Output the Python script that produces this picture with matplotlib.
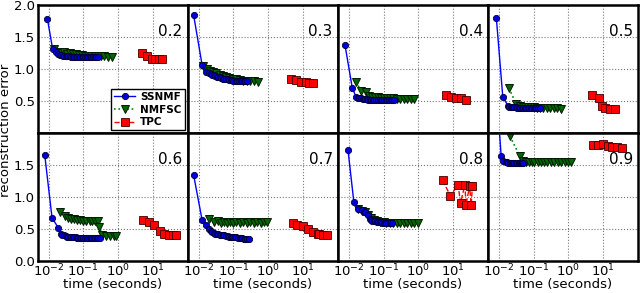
import matplotlib
matplotlib.use("Agg")
import matplotlib.pyplot as plt
from matplotlib.ticker import NullLocator

# sparsity level of each panel
sparsity = ["0.2", "0.3", "0.4", "0.5", "0.6", "0.7", "0.8", "0.9"]

# SSNMF: time (s) and reconstruction error, one list per panel
ssnmf_time = [
    [0.0093, 0.013, 0.016, 0.019, 0.021, 0.023, 0.026, 0.028, 0.031, 0.034, 0.037, 0.041, 0.045, 0.05, 0.055, 0.06, 0.067, 0.075, 0.082, 0.09, 0.1, 0.11, 0.125, 0.14, 0.155, 0.17, 0.19, 0.21, 0.23, 0.26],
    [0.0072, 0.0126, 0.016, 0.02, 0.022, 0.025, 0.027, 0.03, 0.033, 0.037, 0.041, 0.045, 0.05, 0.055, 0.061, 0.068, 0.076, 0.085, 0.093, 0.1, 0.115, 0.13, 0.145, 0.16, 0.18, 0.2, 0.22, 0.25],
    [0.0078, 0.0126, 0.016, 0.018, 0.02, 0.022, 0.025, 0.027, 0.03, 0.033, 0.037, 0.041, 0.045, 0.05, 0.055, 0.062, 0.07, 0.077, 0.085, 0.093, 0.1, 0.115, 0.13, 0.145, 0.16, 0.18, 0.2],
    [0.0085, 0.013, 0.0185, 0.02, 0.022, 0.024, 0.026, 0.028, 0.031, 0.034, 0.037, 0.041, 0.045, 0.05, 0.055, 0.061, 0.067, 0.074, 0.082, 0.09, 0.1, 0.11, 0.12, 0.135, 0.15],
    [0.0078, 0.0126, 0.019, 0.023, 0.025, 0.028, 0.031, 0.034, 0.037, 0.041, 0.045, 0.05, 0.055, 0.06, 0.066, 0.072, 0.08, 0.087, 0.095, 0.1, 0.11, 0.125, 0.14, 0.15, 0.165, 0.18, 0.2, 0.22, 0.245, 0.27, 0.3],
    [0.0072, 0.0126, 0.016, 0.02, 0.022, 0.025, 0.027, 0.03, 0.033, 0.037, 0.041, 0.045, 0.05, 0.055, 0.061, 0.068, 0.075, 0.083, 0.091, 0.1, 0.11, 0.12, 0.135, 0.15, 0.165, 0.18, 0.2, 0.22, 0.25, 0.28],
    [0.0095, 0.014, 0.019, 0.024, 0.027, 0.03, 0.035, 0.04, 0.044, 0.048, 0.053, 0.058, 0.064, 0.07, 0.077, 0.085, 0.093, 0.1, 0.11, 0.12, 0.135, 0.15, 0.165, 0.18],
    [0.0088, 0.0117, 0.0135, 0.016, 0.0175, 0.019, 0.0205, 0.022, 0.024, 0.026, 0.028, 0.031, 0.034, 0.037, 0.04, 0.044, 0.047, 0.05],
]
ssnmf_err = [
    [1.78, 1.32, 1.26, 1.23, 1.22, 1.22, 1.21, 1.21, 1.20, 1.20, 1.20, 1.20, 1.19, 1.19, 1.19, 1.19, 1.18, 1.18, 1.18, 1.18, 1.18, 1.18, 1.18, 1.18, 1.18, 1.18, 1.18, 1.18, 1.18, 1.18],
    [1.84, 1.06, 0.96, 0.93, 0.92, 0.91, 0.90, 0.89, 0.88, 0.87, 0.87, 0.86, 0.85, 0.85, 0.84, 0.84, 0.83, 0.83, 0.83, 0.82, 0.82, 0.82, 0.82, 0.81, 0.81, 0.81, 0.81, 0.81],
    [1.38, 0.71, 0.57, 0.55, 0.54, 0.54, 0.53, 0.53, 0.53, 0.53, 0.52, 0.52, 0.52, 0.52, 0.52, 0.52, 0.52, 0.52, 0.52, 0.52, 0.52, 0.52, 0.52, 0.52, 0.52, 0.52, 0.52],
    [1.80, 0.57, 0.42, 0.41, 0.41, 0.40, 0.40, 0.40, 0.40, 0.39, 0.39, 0.39, 0.39, 0.39, 0.39, 0.39, 0.39, 0.39, 0.39, 0.39, 0.39, 0.39, 0.39, 0.39, 0.39],
    [1.65, 0.675, 0.52, 0.43, 0.41, 0.40, 0.39, 0.38, 0.38, 0.37, 0.37, 0.37, 0.37, 0.37, 0.36, 0.36, 0.36, 0.36, 0.36, 0.36, 0.36, 0.36, 0.36, 0.36, 0.36, 0.36, 0.36, 0.36, 0.36, 0.36, 0.36],
    [1.34, 0.64, 0.56, 0.50, 0.47, 0.45, 0.44, 0.43, 0.42, 0.42, 0.41, 0.41, 0.40, 0.40, 0.39, 0.39, 0.38, 0.38, 0.38, 0.37, 0.37, 0.37, 0.36, 0.36, 0.36, 0.36, 0.35, 0.35, 0.35, 0.35],
    [1.74, 0.93, 0.82, 0.79, 0.77, 0.76, 0.72, 0.66, 0.64, 0.63, 0.62, 0.62, 0.61, 0.61, 0.61, 0.61, 0.60, 0.60, 0.60, 0.60, 0.60, 0.60, 0.60, 0.60],
    [2.60, 1.64, 1.56, 1.54, 1.54, 1.53, 1.53, 1.53, 1.53, 1.53, 1.53, 1.53, 1.53, 1.53, 1.53, 1.53, 1.53, 1.53],
]

# NMFSC
nmfsc_time = [
    [0.014, 0.018, 0.022, 0.027, 0.033, 0.04, 0.05, 0.06, 0.075, 0.09, 0.11, 0.14, 0.17, 0.21, 0.26, 0.32, 0.4, 0.5, 0.65],
    [0.013, 0.017, 0.021, 0.026, 0.032, 0.04, 0.05, 0.062, 0.077, 0.095, 0.12, 0.15, 0.19, 0.24, 0.3, 0.38, 0.5],
    [0.016, 0.023, 0.031, 0.038, 0.046, 0.056, 0.068, 0.083, 0.1, 0.125, 0.15, 0.19, 0.24, 0.3, 0.38, 0.48, 0.6, 0.75],
    [0.0195, 0.032, 0.04, 0.048, 0.058, 0.07, 0.085, 0.1, 0.125, 0.15, 0.19, 0.24, 0.3, 0.38, 0.48, 0.62],
    [0.021, 0.03, 0.037, 0.045, 0.055, 0.067, 0.082, 0.1, 0.12, 0.15, 0.18, 0.22, 0.26, 0.29, 0.35, 0.45, 0.58, 0.75, 0.85],
    [0.02, 0.028, 0.035, 0.043, 0.053, 0.065, 0.08, 0.1, 0.12, 0.15, 0.19, 0.24, 0.3, 0.38, 0.48, 0.6, 0.75, 0.93],
    [0.019, 0.024, 0.03, 0.036, 0.044, 0.054, 0.066, 0.08, 0.1, 0.12, 0.15, 0.19, 0.24, 0.3, 0.38, 0.48, 0.6, 0.75, 0.95],
    [0.021, 0.04, 0.05, 0.06, 0.072, 0.087, 0.1, 0.13, 0.16, 0.2, 0.25, 0.31, 0.39, 0.5, 0.62, 0.78, 1.0, 1.15],
]
nmfsc_err = [
    [1.31, 1.27, 1.25, 1.26, 1.24, 1.25, 1.23, 1.23, 1.22, 1.22, 1.21, 1.21, 1.20, 1.20, 1.20, 1.20, 1.20, 1.19, 1.19],
    [1.05, 1.00, 0.97, 0.95, 0.93, 0.91, 0.89, 0.88, 0.86, 0.85, 0.84, 0.83, 0.82, 0.82, 0.81, 0.81, 0.80],
    [0.80, 0.66, 0.64, 0.58, 0.57, 0.56, 0.56, 0.55, 0.55, 0.54, 0.54, 0.54, 0.53, 0.53, 0.53, 0.53, 0.53, 0.53],
    [0.70, 0.45, 0.42, 0.41, 0.40, 0.40, 0.40, 0.40, 0.39, 0.39, 0.39, 0.39, 0.39, 0.39, 0.39, 0.38],
    [0.76, 0.70, 0.68, 0.66, 0.65, 0.64, 0.64, 0.63, 0.63, 0.63, 0.62, 0.62, 0.62, 0.53, 0.40, 0.39, 0.39, 0.39, 0.39],
    [0.66, 0.61, 0.62, 0.60, 0.61, 0.60, 0.61, 0.60, 0.61, 0.60, 0.61, 0.60, 0.61, 0.60, 0.61, 0.60, 0.61, 0.61],
    [0.81, 0.78, 0.76, 0.72, 0.68, 0.64, 0.62, 0.61, 0.61, 0.60, 0.60, 0.60, 0.59, 0.59, 0.59, 0.59, 0.59, 0.59, 0.59],
    [1.95, 1.64, 1.56, 1.55, 1.55, 1.55, 1.55, 1.55, 1.55, 1.55, 1.55, 1.55, 1.55, 1.55, 1.55, 1.55, 1.55, 1.55],
]

# TPC
tpc_time = [
    [4.8, 6.6, 9.3, 11.5, 14.4, 18.5],
    [4.5, 6.3, 8.7, 12.3, 15.1, 19.5],
    [6.2, 8.7, 12.0, 16.6, 23.4],
    [4.9, 7.6, 9.1, 11.2, 15.8, 21.9],
    [5.2, 7.8, 10.7, 15.5, 20.9, 28.2, 37.0, 47.0],
    [5.0, 6.9, 9.8, 13.5, 19.1, 26.3, 29.5, 38.0, 50.0],
    [5.0, 8.3, 13.8, 16.3, 21.7, 23.4, 29.5, 33.0, 35.5],
    [5.2, 7.2, 10.0, 14.1, 18.2, 24.5, 33.9],
]
tpc_err = [
    [1.25, 1.20, 1.16, 1.15, 1.15, 1.15],
    [0.85, 0.83, 0.80, 0.79, 0.78, 0.78],
    [0.60, 0.57, 0.55, 0.54, 0.52],
    [0.60, 0.55, 0.42, 0.39, 0.38, 0.38],
    [0.64, 0.61, 0.57, 0.47, 0.42, 0.40, 0.40, 0.40],
    [0.59, 0.56, 0.54, 0.50, 0.45, 0.43, 0.42, 0.41, 0.40],
    [1.26, 1.02, 1.19, 0.91, 1.19, 0.88, 1.17, 0.88, 1.17],
    [1.81, 1.82, 1.83, 1.79, 1.78, 1.78, 1.77],
]

fig, axes = plt.subplots(2, 4, figsize=(6.4, 2.93), dpi=100, sharex=True)
fig.subplots_adjust(left=0.059, right=0.997, top=0.983, bottom=0.109, wspace=0, hspace=0)

for i, ax in enumerate(axes.flat):
    row, col = divmod(i, 4)
    ax.plot(ssnmf_time[i], ssnmf_err[i], '-o', color='#0000ff', lw=1, ms=4.5,
            mfc='#0000dd', mec='#000033', mew=0.6, label='SSNMF', zorder=3)
    ax.plot(nmfsc_time[i], nmfsc_err[i], ':v', color='#008000', lw=1.2, ms=6,
            mfc='#006600', mec='#001a00', mew=0.7, label='NMFSC', zorder=2)
    ax.plot(tpc_time[i], tpc_err[i], '--s', color='#ff0000', lw=1, ms=6,
            mfc='#ff0000', mec='#440000', mew=0.6, label='TPC', zorder=2)

    ax.set_xscale('log')
    ax.set_xlim(0.0049, 100)
    ax.set_ylim(0, 2.0)
    ax.xaxis.set_minor_locator(NullLocator())
    ax.set_xticks([1e-2, 1e-1, 1e0, 1e1])
    if row == 0:
        ax.set_yticks([0.5, 1.0, 1.5, 2.0])
    else:
        ax.set_yticks([0.0, 0.5, 1.0, 1.5])
        ax.set_xlabel('time (seconds)', fontsize=9.5, labelpad=-0.5)
    if col != 0:
        ax.tick_params(labelleft=False)
    ax.tick_params(length=0, labelsize=9.5, pad=2)
    ax.tick_params(axis='x', pad=1)
    ax.grid(True, color='#777777', linestyle=':', linewidth=0.8)
    for s in ax.spines.values():
        s.set_linewidth(1.8)
    ax.text(0.965, 0.79, sparsity[i], transform=ax.transAxes, ha='right', va='center',
            fontsize=11)

leg = axes[0, 0].legend(loc='lower right', bbox_to_anchor=(0.98, 0.02), fontsize=7.5,
                        fancybox=False, edgecolor='black', framealpha=1,
                        handlelength=2, handletextpad=0.5, borderpad=0.3,
                        labelspacing=0.25, borderaxespad=0.0)
leg.get_frame().set_linewidth(1.0)
for t in leg.get_texts():
    t.set_fontweight('bold')

fig.text(0.008, 0.555, 'reconstruction error', rotation=90, ha='center', va='center',
         fontsize=9.5)

fig.savefig('out.png', dpi=100)
